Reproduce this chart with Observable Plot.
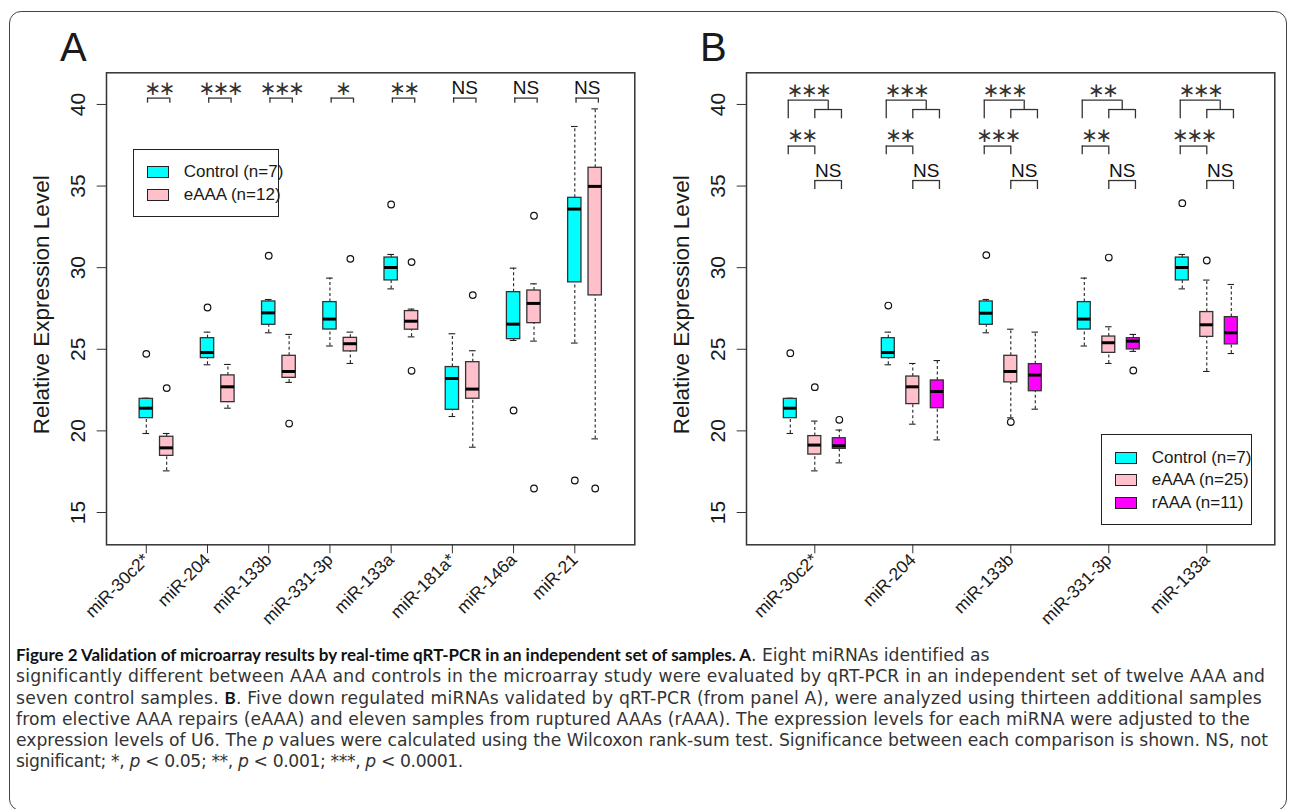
<!DOCTYPE html>
<html><head><meta charset="utf-8">
<script src="https://cdn.jsdelivr.net/npm/d3@7"></script>
<script src="https://cdn.jsdelivr.net/npm/@observablehq/plot@0.6"></script>
<style>
html,body{margin:0;padding:0;background:#fff;}
body{width:1290px;height:809px;overflow:hidden;position:relative;font-family:"Liberation Sans",Arial,sans-serif;color:#1a1a1a;}
#frame{position:absolute;left:9px;top:11px;width:1278px;height:800px;border:1.6px solid #444;border-radius:12px;box-sizing:border-box;}
.panel{position:absolute;top:0;}
.letter{position:absolute;font-size:40px;line-height:1;font-family:"Liberation Sans",Arial,sans-serif;}
.legend{position:absolute;border:1.5px solid #222;box-sizing:border-box;background:#fff;}
.item{position:absolute;display:flex;align-items:center;font-size:17px;white-space:nowrap;}
.sw{width:22px;height:11.7px;border:1.2px solid #222;box-sizing:border-box;margin-right:15px;}
#caption{position:absolute;left:16px;top:643.5px;font-family:"DejaVu Sans",sans-serif;font-size:17.2px;line-height:21px;color:#333;}
#caption .ln{display:block;white-space:nowrap;width:max-content;}
#caption b{color:#111;font-family:"Lato",sans-serif;font-weight:700;font-size:17px;}
</style></head>
<body>
<div id="frame"></div>
<div id="pa" class="panel" style="left:0"></div>
<div id="pb" class="panel" style="left:640px"></div>
<div class="letter" style="left:60px;top:27px">A</div>
<div class="letter" style="left:700px;top:27px">B</div>
<div id="caption">
<span class="ln" data-w="974"><b>Figure 2 Validation of microarray results by real-time qRT-PCR in an independent set of samples. A</b>. Eight miRNAs identified as</span>
<span class="ln" data-w="1249">significantly different between AAA and controls in the microarray study were evaluated by qRT-PCR in an independent set of twelve AAA and</span>
<span class="ln" data-w="1246">seven control samples. <b>B</b>. Five down regulated miRNAs validated by qRT-PCR (from panel A), were analyzed using thirteen additional samples</span>
<span class="ln" data-w="1234">from elective AAA repairs (eAAA) and eleven samples from ruptured AAAs (rAAA). The expression levels for each miRNA were adjusted to the</span>
<span class="ln" data-w="1252">expression levels of U6. The <i>p</i> values were calculated using the Wilcoxon rank-sum test. Significance between each comparison is shown. NS, not</span>
<span class="ln" data-w="447">significant; *, <i>p</i> &lt; 0.05; **, <i>p</i> &lt; 0.001; ***, <i>p</i> &lt; 0.0001.</span>
</div>
<script>
// ---------- DATA ----------
const mirnasA = ["miR-30c2*","miR-204","miR-133b","miR-331-3p","miR-133a","miR-181a*","miR-146a","miR-21"];
const sigA = ["**","***","***","*","**","NS","NS","NS"];
const groupsA = ["Control (n=7)","eAAA (n=12)"];
// [lower whisker, Q1, median, Q3, upper whisker]
const controlA = [
  [19.84,20.78,21.39,21.96,22.00],[24.05,24.46,24.80,25.68,26.05],[26.01,26.50,27.23,27.93,28.05],
  [25.20,26.21,26.85,27.89,29.36],[28.70,29.22,30.01,30.62,30.81],[20.88,21.29,23.21,23.91,25.95],
  [25.54,25.62,26.54,28.50,29.97],[25.38,29.10,33.59,34.28,38.65]];
const eaaaA = [
  [17.55,18.47,18.96,19.64,19.84],[21.39,21.76,22.70,23.40,24.07],[22.97,23.25,23.64,24.60,25.91],
  [24.13,24.87,25.34,25.70,26.05],[25.76,26.20,26.72,27.34,27.46],[19.00,21.97,22.56,24.21,24.91],
  [25.50,26.60,27.81,28.60,29.01],[19.51,28.30,34.98,36.12,39.73]];
const outControlA = [[24.72],[27.56],[30.73],[],[33.87],[],[21.25],[16.96]];
const outEaaaA = [[22.62],[],[20.45],[30.54],[30.34,23.68],[28.32],[33.18,16.47],[16.47]];

const mirnasB = ["miR-30c2*","miR-204","miR-133b","miR-331-3p","miR-133a"];
const sigB_ctrlVsAAA = ["***","***","***","**","***"];
const sigB_ctrlVsE = ["**","**","***","**","***"];
const sigB_eVsR = ["NS","NS","NS","NS","NS"];
const groupsB = ["Control (n=7)","eAAA (n=25)","rAAA (n=11)"];
const controlB = [
  [19.84,20.78,21.39,21.96,22.00],[24.05,24.46,24.80,25.68,26.05],[26.01,26.50,27.21,27.93,28.05],
  [25.20,26.21,26.85,27.89,29.36],[28.70,29.22,30.01,30.62,30.81]];
const eaaaB = [
  [17.55,18.55,19.13,19.68,20.60],[20.41,21.64,22.70,23.33,24.13],[20.80,22.97,23.64,24.60,26.23],
  [24.13,24.78,25.40,25.78,26.38],[23.64,25.76,26.50,27.28,29.24]];
const raaaB = [
  [18.04,18.90,19.09,19.55,20.05],[19.45,21.39,22.41,23.09,24.31],[21.33,22.43,23.42,24.09,26.05],
  [24.87,24.99,25.50,25.68,25.91],[24.74,25.30,26.01,26.97,28.97]];
const outControlB = [[24.76],[27.68],[30.77],[],[33.95]];
const outEaaaB = [[22.68],[],[20.54],[30.62],[30.44]];
const outRaaaB = [[20.68],[],[],[23.70],[]];

const yTicks = [15,20,25,30,35,40];

// ---------- STYLE / LAYOUT ----------
const COLORS = ["#00FFFF","#FFC0CB","#FF00FF"];
const INK = "#222";
const W = 640, H = 640;
const M = {marginTop:72.3, marginRight:5.7, marginBottom:95.7, marginLeft:106};
const yDomain = [13.02, 41.94];

function buildBoxes(series, outs, offsets) {
  const boxes = [], points = [];
  series.forEach((s, k) => s.forEach((v, i) => {
    const x = i + offsets[k];
    boxes.push({k, x, lo:v[0], q1:v[1], med:v[2], q3:v[3], hi:v[4]});
    outs[k][i].forEach(y => points.push({x, y}));
  }));
  return {boxes, points};
}

function boxMarks(boxes, points, hw) {
  return [
    Plot.ruleX(boxes, {x:"x", y1:"lo", y2:"q1", stroke:INK, strokeWidth:1.1, strokeDasharray:"3,2.5"}),
    Plot.ruleX(boxes, {x:"x", y1:"q3", y2:"hi", stroke:INK, strokeWidth:1.1, strokeDasharray:"3,2.5"}),
    Plot.ruleY(boxes, {x1:d=>d.x-hw/2, x2:d=>d.x+hw/2, y:"lo", stroke:INK, strokeWidth:1.1}),
    Plot.ruleY(boxes, {x1:d=>d.x-hw/2, x2:d=>d.x+hw/2, y:"hi", stroke:INK, strokeWidth:1.1}),
    Plot.rect(boxes, {x1:d=>d.x-hw, x2:d=>d.x+hw, y1:"q1", y2:"q3", fill:d=>COLORS[d.k], stroke:"#333", strokeWidth:1.3}),
    Plot.ruleY(boxes, {x1:d=>d.x-hw, x2:d=>d.x+hw, y:"med", stroke:"#000", strokeWidth:3}),
    Plot.dot(points, {x:"x", y:"y", r:3.3, stroke:"#111", strokeWidth:1.2, fill:"none"})
  ];
}

function axes(names) {
  return [
    Plot.axisY({ticks:yTicks, tickSize:9.3, tickRotate:-90, tickPadding:12, fontSize:21, label:null, stroke:"#333"}),
    Plot.axisX({ticks:d3.range(names.length), tickFormat:i=>names[i], tickRotate:-45, tickSize:9, tickPadding:3, fontSize:17.5, label:null, stroke:"#333"}),
    Plot.text(["Relative Expression Level"], {frameAnchor:"left", textAnchor:"middle", rotate:-90, dx:-65, dy:-4, fontSize:22.5, fill:"#1a1a1a"}),
    Plot.frame({stroke:"#333", strokeWidth:1.5})
  ];
}

const STAR_FONT = "DejaVu Sans";
const STAR_SIZE = 20;
function starText(s){ return s.replace(/\*/g, "\u2217"); }
function tightenStars(svg){
  d3.select(svg).selectAll("text").each(function(){
    if (this.textContent.includes("\u2217")) this.setAttribute("letter-spacing", "-2.5");
  });
}

// ---------- PANEL A ----------
{
  const {boxes, points} = buildBoxes([controlA, eaaaA], [outControlA, outEaaaA], [0, 1/3]);
  const hw = 0.109;
  const br = mirnasA.map((m,i)=>({i, s:sigA[i]}));
  const bL = 0.02, bR = 0.385, bTop = 40.39, bBot = 40.08;
  const svg = Plot.plot({
    width:W, height:H, ...M,
    x:{domain:[-0.65,7.98], axis:null},
    y:{domain:yDomain, axis:null},
    color:{type:"identity"},
    style:{fontFamily:"Liberation Sans, Arial, sans-serif", background:"transparent", color:"#1a1a1a"},
    marks:[
      ...axes(mirnasA),
      ...boxMarks(boxes, points, hw),
      Plot.ruleY(br, {x1:d=>d.i+bL, x2:d=>d.i+bR, y:bTop, stroke:"#333", strokeWidth:1.3}),
      Plot.ruleX(br, {x:d=>d.i+bL, y1:bBot, y2:bTop, stroke:"#333", strokeWidth:1.3}),
      Plot.ruleX(br, {x:d=>d.i+bR, y1:bBot, y2:bTop, stroke:"#333", strokeWidth:1.3}),
      Plot.text(br.filter(d=>d.s!=="NS"), {x:d=>d.i+(bL+bR)/2, y:41.0, text:d=>starText(d.s), fontSize:STAR_SIZE, fontFamily:STAR_FONT, fill:"#333"}),
      Plot.text(br.filter(d=>d.s==="NS"), {x:d=>d.i+(bL+bR)/2, y:41.0, text:"s", fontSize:19, fill:"#111"})
    ]
  });
  tightenStars(svg);
  document.getElementById("pa").append(svg);
}

// ---------- PANEL B ----------
{
  const {boxes, points} = buildBoxes([controlB, eaaaB, raaaB], [outControlB, outEaaaB, outRaaaB], [-0.25, 0, 0.25]);
  const hw = 0.066;
  const br = mirnasB.map((m,i)=>({i, s1:sigB_ctrlVsAAA[i], s2:sigB_ctrlVsE[i], s3:sigB_eVsR[i]}));
  const cL = -0.271, mid = 0.137, eX = 0.0, rX = 0.272;
  const top1 = 40.26, sub1 = 39.69, leg1 = 39.12;
  const top2 = 37.45, leg2 = 36.92;
  const top3 = 35.34, leg3 = 34.79;
  const st = {stroke:"#333", strokeWidth:1.3};
  const svg = Plot.plot({
    width:W, height:H, ...M,
    x:{domain:[-0.697,4.694], axis:null},
    y:{domain:yDomain, axis:null},
    color:{type:"identity"},
    style:{fontFamily:"Liberation Sans, Arial, sans-serif", background:"transparent", color:"#1a1a1a"},
    marks:[
      ...axes(mirnasB),
      ...boxMarks(boxes, points, hw),
      Plot.ruleY(br, {x1:d=>d.i+cL, x2:d=>d.i+mid, y:top1, ...st}),
      Plot.ruleX(br, {x:d=>d.i+cL, y1:leg1, y2:top1, ...st}),
      Plot.ruleX(br, {x:d=>d.i+mid, y1:sub1, y2:top1, ...st}),
      Plot.ruleY(br, {x1:d=>d.i+eX, x2:d=>d.i+rX, y:sub1, ...st}),
      Plot.ruleX(br, {x:d=>d.i+eX, y1:leg1, y2:sub1, ...st}),
      Plot.ruleX(br, {x:d=>d.i+rX, y1:leg1, y2:sub1, ...st}),
      Plot.text(br, {x:d=>d.i+(cL+mid)/2, y:40.83, text:d=>starText(d.s1), fontSize:STAR_SIZE, fontFamily:STAR_FONT, fill:"#333"}),
      Plot.ruleY(br, {x1:d=>d.i+cL, x2:d=>d.i+eX, y:top2, ...st}),
      Plot.ruleX(br, {x:d=>d.i+cL, y1:leg2, y2:top2, ...st}),
      Plot.ruleX(br, {x:d=>d.i+eX, y1:leg2, y2:top2, ...st}),
      Plot.text(br, {x:d=>d.i+(cL+eX)/2, y:38.08, text:d=>starText(d.s2), fontSize:STAR_SIZE, fontFamily:STAR_FONT, fill:"#333"}),
      Plot.ruleY(br, {x1:d=>d.i+eX, x2:d=>d.i+rX, y:top3, ...st}),
      Plot.ruleX(br, {x:d=>d.i+eX, y1:leg3, y2:top3, ...st}),
      Plot.ruleX(br, {x:d=>d.i+rX, y1:leg3, y2:top3, ...st}),
      Plot.text(br, {x:d=>d.i+(eX+rX)/2, y:35.94, text:"s3", fontSize:19, fill:"#111"})
    ]
  });
  tightenStars(svg);
  document.getElementById("pb").append(svg);
}

// ---------- LEGENDS ----------
function legend(box, labels, rowTops) {
  const lg = document.createElement("div");
  lg.className = "legend";
  Object.assign(lg.style, {left:box[0]+"px", top:box[1]+"px", width:box[2]+"px", height:box[3]+"px"});
  document.body.append(lg);
  labels.forEach((t, k) => {
    const it = document.createElement("div");
    it.className = "item";
    Object.assign(it.style, {left:(box[0]+13.4)+"px", top:(rowTops[k]-4)+"px", height:"20px"});
    const sw = document.createElement("div");
    sw.className = "sw"; sw.style.background = COLORS[k];
    const tx = document.createElement("span"); tx.textContent = t;
    it.append(sw, tx);
    document.body.append(it);
  });
}
legend([133.3,149.3,145.7,67.7], groupsA, [166.3,189]);
legend([1101.3,434,150.7,91], groupsB, [451.7,474,496.7]);

// ---------- fit caption lines to the reference line lengths ----------
document.querySelectorAll("#caption .ln").forEach(ln => {
  const target = +ln.dataset.w;
  const w = ln.getBoundingClientRect().width;
  const n = ln.textContent.length;
  const ls = Math.max(-1.2, Math.min(1.2, (target - w) / n));
  ln.style.letterSpacing = ls.toFixed(3) + "px";
  ln.querySelectorAll("b").forEach(b => b.style.letterSpacing = ls.toFixed(3) + "px");
});
</script>
</body></html>
